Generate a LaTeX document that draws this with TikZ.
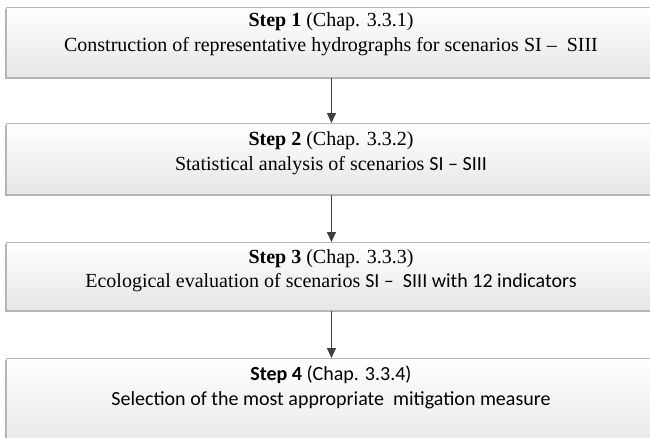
\documentclass[tikz,border=0pt]{standalone}
\usepackage{fontspec}
\setmainfont{Liberation Serif}
\newfontfamily\calfont{Carlito}
\usetikzlibrary{arrows.meta,shadows}
\definecolor{boxline}{HTML}{B8B8B8}
\definecolor{boxbot}{HTML}{E6E6E6}
\definecolor{arrcol}{HTML}{404040}
\begin{document}
\begin{tikzpicture}[x=1pt,y=-1pt,
  stepbox/.style={draw=boxline, line width=0.9pt, top color=white, bottom color=boxbot,
    minimum width=650pt, minimum height=70pt, anchor=north west, inner sep=0pt,
    drop shadow={shadow xshift=-1pt, shadow yshift=-1.2pt, fill=gray!60, opacity=1}},
  txt/.style={inner sep=0pt, font=\fontsize{20}{22}\selectfont},
  ctxt/.style={inner sep=0pt, font=\fontsize{20}{22}\calfont},
  arr/.style={draw=arrcol, line width=1.1pt, -{Triangle[length=10pt,width=9pt]}}]
\useasboundingbox (0,0) rectangle (650,437);
\clip (0,0) rectangle (650,437);
\node[stepbox] (b1) at (6,7) {};
\node[stepbox, minimum height=71pt] (b2) at (6,123) {};
\node[stepbox, minimum height=68pt] (b3) at (6,242) {};
\node[stepbox, minimum height=95pt] (b4) at (6,358) {};
\node[txt] (t1a) at (331,22) {\textbf{Step 1} (Chap. 3.3.1)};
\node[txt] (t1b) at (331,47) {Construction of representative hydrographs for scenarios SI –\ \ SIII};
\node[txt] (t2a) at (331,141) {\textbf{Step 2} (Chap. 3.3.2)};
\node[txt] (t2b) at (331,166) {Statistical analysis of scenarios {\calfont SI – SIII}};
\node[txt] (t3a) at (331,259) {\textbf{Step 3} (Chap. 3.3.3)};
\node[txt] (t3b) at (331,283) {Ecological evaluation of scenarios {\calfont SI –\ \ SIII with 12 indicators}};
\node[ctxt] (t4a) at (331,375) {\textbf{Step 4} (Chap. 3.3.4)};
\node[ctxt] (t4b) at (331,400) {Selection of the most appropriate\ \ mitigation measure};
\draw[arr] (b1.south) -- (b2.north);
\draw[arr] (b2.south) -- (b3.north);
\draw[arr] (b3.south) -- (b4.north);
\end{tikzpicture}
\end{document}
